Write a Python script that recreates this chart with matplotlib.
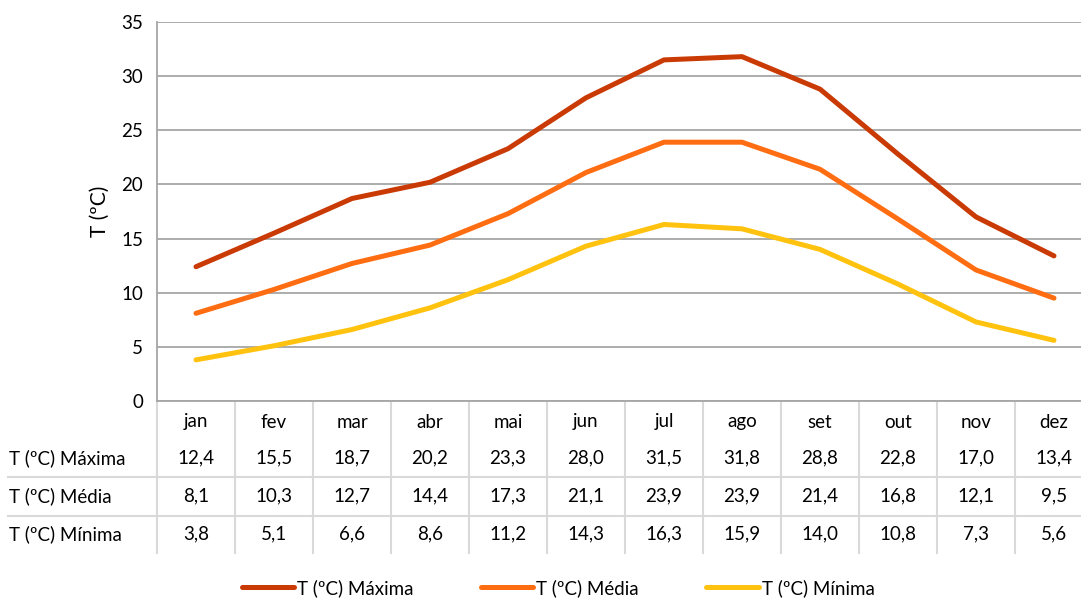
import matplotlib.pyplot as plt
from matplotlib.lines import Line2D
import matplotlib.transforms as mtransforms

plt.rcParams['font.family'] = ['Lato', 'DejaVu Sans']

meses = ['jan', 'fev', 'mar', 'abr', 'mai', 'jun', 'jul', 'ago', 'set', 'out', 'nov', 'dez']
t_max = [12.4, 15.5, 18.7, 20.2, 23.3, 28.0, 31.5, 31.8, 28.8, 22.8, 17.0, 13.4]
t_med = [8.1, 10.3, 12.7, 14.4, 17.3, 21.1, 23.9, 23.9, 21.4, 16.8, 12.1, 9.5]
t_min = [3.8, 5.1, 6.6, 8.6, 11.2, 14.3, 16.3, 15.9, 14.0, 10.8, 7.3, 5.6]
series_names = ['T (ºC) Máxima', 'T (ºC) Média', 'T (ºC) Mínima']
colors = ['#C93A05', '#FF6D12', '#FFC20E']

W, H = 1081, 599
fig = plt.figure(figsize=(W/100, H/100), dpi=100)

# plot area in pixels (right side is cropped in the original)
left, right, top, bottom = 157, 1093, 22, 401
ax = fig.add_axes([left/W, 1-bottom/H, (right-left)/W, (bottom-top)/H])

x = list(range(len(meses)))
handles = []
for vals, name, c in zip([t_max, t_med, t_min], series_names, colors):
    h, = ax.plot(x, vals, color=c, lw=3.6, solid_capstyle='round', label=name, zorder=3)
    handles.append(h)

ax.set_xlim(-0.5, 11.5)
ax.set_ylim(0, 35)
ax.set_yticks(range(0, 36, 5))
ax.set_xticks([])
ax.grid(axis='y', color='#A6A6A6', lw=1.3)
ax.set_axisbelow(True)
for s in ['top', 'right']:
    ax.spines[s].set_visible(False)
ax.spines['left'].set_color('#A6A6A6')
ax.spines['bottom'].set_color('#A6A6A6')
ax.spines['left'].set_linewidth(1.3)
ax.spines['bottom'].set_linewidth(1.3)
ax.tick_params(axis='y', length=0, labelsize=13.5, pad=10, colors='black')
ax.set_ylabel('T (ºC)', fontsize=15, labelpad=8)

# data table below the plot
trans = mtransforms.blended_transform_factory(ax.transData, fig.transFigure)
def fy(py):
    return 1 - py/H

grid_c = '#D9D9D9'
for k in range(len(meses) + 1):
    ax.add_line(Line2D([k-0.5, k-0.5], [fy(401), fy(553)], transform=trans,
                       color=grid_c, lw=1.5, clip_on=False))
for py in [477, 516]:
    fig.add_artist(Line2D([8/W, 1], [fy(py), fy(py)], color=grid_c, lw=1.5))

row_y = [458, 496, 534]
for i, m in enumerate(meses):
    ax.text(i, fy(422), m, transform=trans, ha='center', va='center', fontsize=13.5)
for vals, name, py in zip([t_max, t_med, t_min], series_names, row_y):
    fig.text(9/W, fy(py), name, ha='left', va='center', fontsize=13.5)
    for i, v in enumerate(vals):
        ax.text(i, fy(py), f'{v:.1f}'.replace('.', ','), transform=trans,
                ha='center', va='center', fontsize=13.5)

fig.legend(handles=handles, loc='center', bbox_to_anchor=(558/W, fy(588)), ncol=3,
           frameon=False, fontsize=13.5, handlelength=2.8, handletextpad=0.15,
           columnspacing=3.6)

fig.savefig('out.png', dpi=100)
